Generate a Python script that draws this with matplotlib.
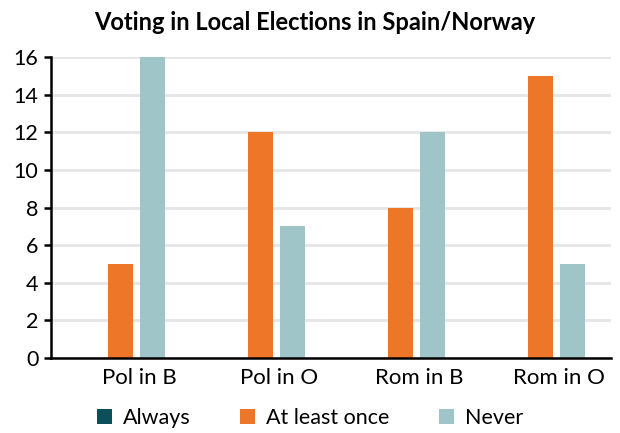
import matplotlib
matplotlib.use('Agg')
import matplotlib.pyplot as plt
import numpy as np

categories = ['Pol in B', 'Pol in O', 'Rom in B', 'Rom in O']
series_names = ['Always', 'At least once', 'Never']
always = [0, 0, 0, 0]
at_least_once = [5, 12, 8, 15]
never = [16, 7, 12, 5]
colors = ['#0b4f5a', '#ee7628', '#9fc5c9']
y_ticks = [0, 2, 4, 6, 8, 10, 12, 14, 16]

plt.rcParams['font.family'] = ['Lato', 'DejaVu Sans']

fig = plt.figure(figsize=(6.2, 4.33), dpi=100)
ax = fig.add_axes([0.082, 0.173, 0.903, 0.695])

x = np.arange(len(categories))
step = 0.229
width = 0.178
handles = []
for i, (name, vals) in enumerate(zip(series_names, [always, at_least_once, never])):
    b = ax.bar(x + (i - 1) * step, vals, width, color=colors[i], label=name, zorder=3)
    handles.append(b)

ax.set_xlim(-0.5, len(categories) - 0.5)
ax.set_ylim(0, 16)
ax.set_yticks(y_ticks)
ax.set_yticklabels([str(v) for v in y_ticks], fontsize=15.5)
ax.set_xticks(x + 0.13)
ax.set_xticklabels(categories, fontsize=16)
ax.tick_params(axis='x', length=0, pad=7)
ax.tick_params(axis='y', length=5, width=1.8, direction='out', pad=4)

ax.yaxis.grid(True, color='#e6e6e6', linewidth=2, zorder=0)
ax.set_axisbelow(True)
for side in ['top', 'right']:
    ax.spines[side].set_visible(False)
for side in ['left', 'bottom']:
    ax.spines[side].set_linewidth(1.8)
    ax.spines[side].set_zorder(4)

fig.text(0.508, 0.947, 'Voting in Local Elections in Spain/Norway',
         ha='center', va='center', fontsize=17, fontweight='bold')

fig.legend(handles=handles, labels=series_names, loc='center',
           bbox_to_anchor=(0.5, 0.035), ncol=3, frameon=False, fontsize=15.5,
           handlelength=0.7, handleheight=0.7, handletextpad=0.5,
           columnspacing=2.3)

fig.savefig('out.png', dpi=100)
